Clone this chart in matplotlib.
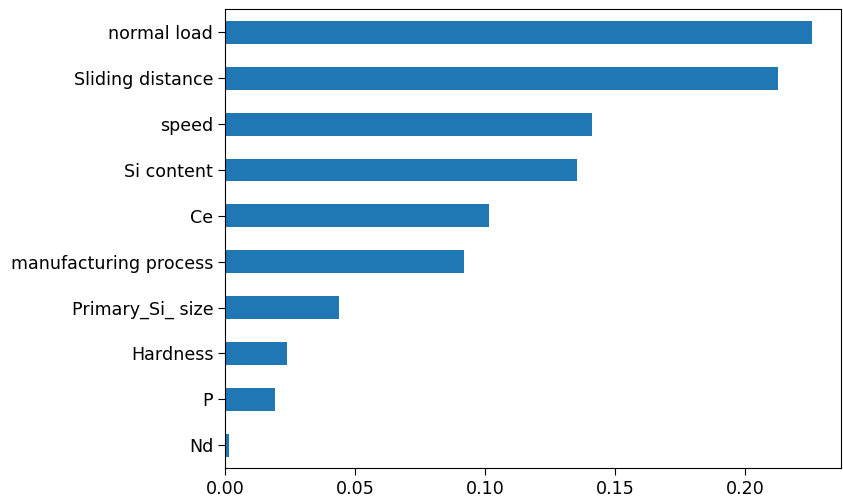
import matplotlib
matplotlib.use('Agg')
import matplotlib.pyplot as plt

features = ['Nd', 'P', 'Hardness', 'Primary_Si_ size', 'manufacturing process',
            'Ce', 'Si content', 'speed', 'Sliding distance', 'normal load']
importance = [0.0015, 0.0192, 0.0238, 0.0438, 0.0919,
              0.1015, 0.1354, 0.1412, 0.2127, 0.2258]

fig = plt.figure(figsize=(8.43, 5), dpi=100)
ax = fig.add_axes([0.267, 0.064, 0.731, 0.917])

ax.barh(range(len(features)), importance, height=0.5, color='#1f77b4')
ax.set_yticks(range(len(features)))
ax.set_yticklabels(features)
ax.set_ylim(-0.5, len(features) - 0.5)
ax.tick_params(labelsize=12.6, length=5)

fig.savefig('out.png', dpi=100)
